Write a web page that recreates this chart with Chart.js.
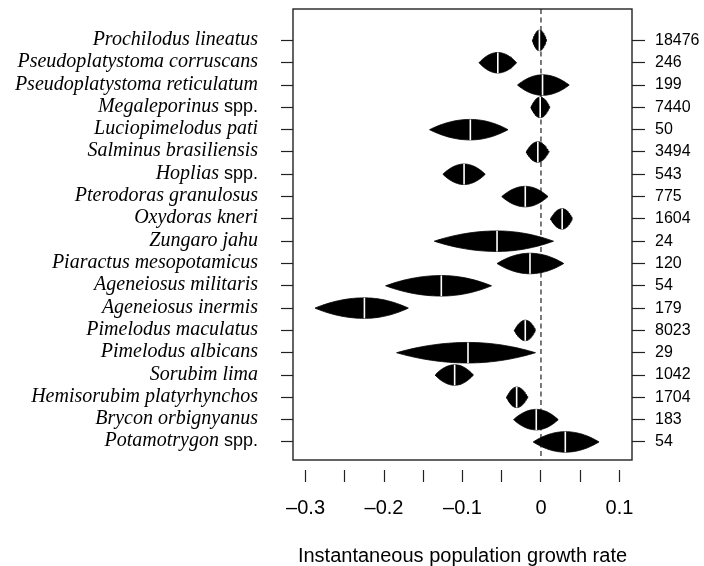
<!DOCTYPE html>
<html><head><meta charset="utf-8">
<script src="https://cdn.jsdelivr.net/npm/chart.js@4.4.1/dist/chart.umd.min.js"></script>
<style>html,body{margin:0;padding:0;background:#fff;}#wrap{width:704px;height:566px;}</style>
</head><body><div id="wrap"><canvas id="c" width="704" height="566"></canvas></div>
<script>
const species = [
  "Prochilodus lineatus","Pseudoplatystoma corruscans","Pseudoplatystoma reticulatum",
  "Megaleporinus spp.","Luciopimelodus pati","Salminus brasiliensis","Hoplias spp.",
  "Pterodoras granulosus","Oxydoras kneri","Zungaro jahu","Piaractus mesopotamicus",
  "Ageneiosus militaris","Ageneiosus inermis","Pimelodus maculatus","Pimelodus albicans",
  "Sorubim lima","Hemisorubim platyrhynchos","Brycon orbignyanus","Potamotrygon spp."
];
const sampleSizes = [18476,246,199,7440,50,3494,543,775,1604,24,120,54,179,8023,29,1042,1704,183,54];
const estimate = [-0.002,-0.055,0.002,-0.001,-0.090,-0.004,-0.098,-0.020,0.027,-0.056,-0.014,-0.127,-0.225,-0.020,-0.093,-0.110,-0.031,-0.006,0.031];
const lower    = [-0.011,-0.079,-0.030,-0.013,-0.142,-0.019,-0.125,-0.050,0.012,-0.136,-0.056,-0.198,-0.288,-0.034,-0.184,-0.135,-0.044,-0.035,-0.010];
const upper    = [0.007,-0.031,0.036,0.011,-0.042,0.010,-0.071,0.009,0.040,0.016,0.029,-0.063,-0.169,-0.007,-0.007,-0.086,-0.017,0.022,0.074];
const xTicks = [-0.3,-0.25,-0.2,-0.15,-0.1,-0.05,0,0.05,0.1];
const xTickLabels = ["\u20130.3","","\u20130.2","","\u20130.1","","0","","0.1"];

const Y_MIN = -1.41, Y_MAX = 18.81;
const HALF = 0.46;
function shape(x, e, lo, hi) {
  const t = x < e ? (e - x) / (e - lo) : (x - e) / (hi - e);
  return Math.max(0, 1 - t * t);
}

const datasets = [{
  data: [{x: 0, y: Y_MIN}, {x: 0, y: Y_MAX}],
  borderColor: '#222', borderWidth: 1.2, borderDash: [5, 3.5],
  pointRadius: 0, fill: false, order: 100
}];
species.forEach((name, i) => {
  const e = estimate[i], lo = lower[i], hi = upper[i];
  const xs = [];
  const N = 40;
  for (let k = 0; k <= N; k++) xs.push(lo + (hi - lo) * k / N);
  xs.push(e);
  xs.sort((a, b) => a - b);
  const up = xs.map(x => ({x, y: i - HALF * shape(x, e, lo, hi)}));
  const dn = xs.map(x => ({x, y: i + HALF * shape(x, e, lo, hi)}));
  datasets.push({data: up, fill: '+1', backgroundColor: '#000', borderColor: '#000', borderWidth: 0.8, pointRadius: 0, order: 50});
  datasets.push({data: dn, fill: false, backgroundColor: '#000', borderColor: '#000', borderWidth: 0.8, pointRadius: 0, order: 50});
});
species.forEach((name, i) => {
  datasets.push({data: [{x: estimate[i], y: i - HALF}, {x: estimate[i], y: i + HALF}],
    borderColor: '#fff', borderWidth: 1.6, pointRadius: 0, fill: false, order: 1});
});

const boxLabels = {
  id: 'boxLabels',
  afterDraw(chart) {
    const {ctx, chartArea: a, scales: {y}} = chart;
    ctx.save();
    ctx.strokeStyle = '#222'; ctx.lineWidth = 1.4;
    ctx.strokeRect(a.left, a.top, a.right - a.left, a.bottom - a.top);
    ctx.fillStyle = '#000'; ctx.textBaseline = 'alphabetic'; ctx.textAlign = 'right';
    const xr = 258;
    species.forEach((name, i) => {
      const py = y.getPixelForValue(i) + 4.5;
      let genus = name, x = xr;
      if (name.endsWith(' spp.')) {
        genus = name.slice(0, -5);
        ctx.font = '18px "Liberation Sans"';
        ctx.fillText('spp.', x, py);
        x -= ctx.measureText('spp.').width + 5;
      }
      ctx.font = 'italic 20px "Liberation Serif"';
      ctx.fillText(genus, x, py);
    });
    ctx.restore();
  }
};

const noPadV = s => { s.paddingTop = 0; s.paddingBottom = 0; };

new Chart(document.getElementById('c'), {
  type: 'line',
  data: {datasets},
  plugins: [boxLabels],
  options: {
    responsive: false, animation: false, devicePixelRatio: 1,
    layout: {padding: {top: 9, left: 0, right: 0, bottom: 0}},
    plugins: {legend: {display: false}, tooltip: {enabled: false}},
    elements: {line: {tension: 0}},
    scales: {
      x: {
        type: 'linear', position: 'bottom', min: -0.316, max: 0.116,
        afterBuildTicks: s => { s.ticks = xTicks.map(v => ({value: v})); },
        afterFit: s => { s.height = 106; s.paddingLeft = 0; s.paddingRight = 0; },
        grid: {drawOnChartArea: false, drawTicks: true, tickLength: 22, tickColor: '#222', tickWidth: 1.2, tickBorderDash: [0, 10, 12, 100]},
        border: {display: false},
        ticks: {autoSkip: false, maxRotation: 0, padding: 14, color: '#000',
          font: {family: 'Liberation Sans', size: 20},
          callback: (v, i) => xTickLabels[i]},
        title: {display: true, text: 'Instantaneous population growth rate', color: '#000',
          font: {family: 'Liberation Sans', size: 20}, padding: {top: 0, bottom: -2}}
      },
      y: {
        type: 'linear', position: 'left', reverse: true, min: Y_MIN, max: Y_MAX,
        afterBuildTicks: s => { s.ticks = species.map((_, i) => ({value: i})); },
        afterFit: s => { s.width = 293; noPadV(s); },
        grid: {drawOnChartArea: false, tickLength: 12, tickColor: '#222', tickWidth: 1.2},
        border: {display: false},
        ticks: {callback: () => '', padding: 0}
      },
      y2: {
        type: 'linear', position: 'right', reverse: true, min: Y_MIN, max: Y_MAX,
        afterBuildTicks: s => { s.ticks = species.map((_, i) => ({value: i})); },
        afterFit: s => { s.width = 72; noPadV(s); },
        grid: {drawOnChartArea: false, tickLength: 13, tickColor: '#222', tickWidth: 1.2},
        border: {display: false},
        ticks: {padding: 10, color: '#000', font: {family: 'Liberation Sans', size: 16},
          callback: v => String(sampleSizes[Math.round(v)])}
      }
    }
  }
});
</script></body></html>
